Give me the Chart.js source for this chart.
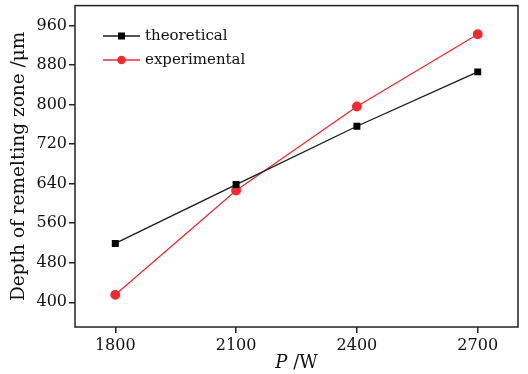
<!DOCTYPE html>
<html>
<head>
<meta charset="utf-8">
<script src="https://cdn.jsdelivr.net/npm/chart.js@4/dist/chart.umd.min.js"></script>
<style>
  html, body { margin: 0; padding: 0; background: #fff; }
  #wrap { width: 528px; height: 374px; position: relative; }
</style>
</head>
<body>
<div id="wrap"><canvas id="depth-chart"></canvas></div>
<script>
const powers = [1800, 2100, 2400, 2700];
const theoretical = [519, 638, 756, 866];
const experimental = [415, 626, 796, 942];
const xTicks = [1800, 2100, 2400, 2700];
const yTicks = [400, 480, 560, 640, 720, 800, 880, 960];

const serif = '"DejaVu Serif", "Liberation Serif", serif';

// frame round the plot, legend and the x title with italic P
const extras = {
    id: 'extras',
    afterDraw(chart) {
        const ctx = chart.ctx;
        const a = chart.chartArea;
        ctx.save();
        ctx.strokeStyle = '#222';
        ctx.lineWidth = 1.5;
        ctx.strokeRect(a.left, a.top, a.right - a.left, a.bottom - a.top);

        // legend
        ctx.font = '15px ' + serif;
        ctx.textBaseline = 'middle';
        chart.data.datasets.forEach((ds, i) => {
            const y = 36 + i * 24;
            ctx.strokeStyle = ds.borderColor;
            ctx.lineWidth = 1.3;
            ctx.beginPath();
            ctx.moveTo(103, y);
            ctx.lineTo(140, y);
            ctx.stroke();
            ctx.fillStyle = ds.pointBackgroundColor;
            if (ds.pointStyle === 'rect') {
                ctx.fillRect(118, y - 3.5, 7, 7);
            } else {
                ctx.beginPath();
                ctx.arc(121.5, y, 4.3, 0, Math.PI * 2);
                ctx.fill();
            }
            ctx.fillStyle = '#111';
            ctx.textAlign = 'left';
            ctx.fillText(ds.label, 145, y);
        });

        // x axis title
        ctx.fillStyle = '#111';
        ctx.textBaseline = 'alphabetic';
        ctx.font = 'italic 18px ' + serif;
        const pW = ctx.measureText('P').width;
        ctx.font = '18px ' + serif;
        const rest = ' /W';
        const rW = ctx.measureText(rest).width;
        const cx = (a.left + a.right) / 2;
        const x0 = cx - (pW + rW) / 2;
        ctx.font = 'italic 18px ' + serif;
        ctx.fillText('P', x0, 368);
        ctx.font = '18px ' + serif;
        ctx.fillText(rest, x0 + pW, 368);
        ctx.restore();
    }
};

const ctx = document.getElementById('depth-chart').getContext('2d');
const chart = new Chart(ctx, {
    type: 'line',
    data: {
        datasets: [{
            label: 'theoretical',
            data: powers.map((p, i) => ({ x: p, y: theoretical[i] })),
            borderColor: '#1a1a1a',
            backgroundColor: '#000',
            pointBackgroundColor: '#000',
            pointBorderColor: '#000',
            pointStyle: 'rect',
            pointRadius: 4,
            borderWidth: 1.3,
            tension: 0
        }, {
            label: 'experimental',
            data: powers.map((p, i) => ({ x: p, y: experimental[i] })),
            borderColor: '#ee2a30',
            backgroundColor: '#ee2a30',
            pointBackgroundColor: '#ee2a30',
            pointBorderColor: '#ee2a30',
            pointStyle: 'circle',
            pointRadius: 4.3,
            borderWidth: 1.3,
            tension: 0
        }]
    },
    options: {
        responsive: true,
        maintainAspectRatio: false,
        animation: false,
        layout: { padding: { left: 0, right: 10, top: 4, bottom: 0 } },
        plugins: {
            legend: { display: false },
            tooltip: { enabled: false }
        },
        scales: {
            x: {
                type: 'linear',
                min: 1700,
                max: 2800,
                afterBuildTicks: (s) => { s.ticks = xTicks.map(v => ({ value: v })); },
                afterFit: (s) => { s.height = 47; s.paddingLeft = 0; s.paddingRight = 0; },
                grid: { drawOnChartArea: false, tickLength: 6, color: '#222', lineWidth: 1.5 },
                border: { display: false },
                ticks: {
                    color: '#111', font: { family: serif, size: 16 }, padding: 3, maxRotation: 0,
                    callback: (v) => String(v)
                }
            },
            y: {
                min: 350,
                max: 1000,
                afterBuildTicks: (s) => { s.ticks = yTicks.map(v => ({ value: v })); },
                afterFit: (s) => { s.width = 75; s.paddingTop = 0; s.paddingBottom = 0; },
                grid: { drawOnChartArea: false, tickLength: 6, color: '#222', lineWidth: 1.5 },
                border: { display: false },
                title: {
                    display: true,
                    text: 'Depth of remelting zone /μm',
                    color: '#111',
                    font: { family: serif, size: 18.5 },
                    padding: { top: 8, bottom: 0 }
                },
                ticks: { color: '#111', font: { family: serif, size: 16 }, padding: 2 }
            }
        }
    },
    plugins: [extras]
});
</script>
</body>
</html>
